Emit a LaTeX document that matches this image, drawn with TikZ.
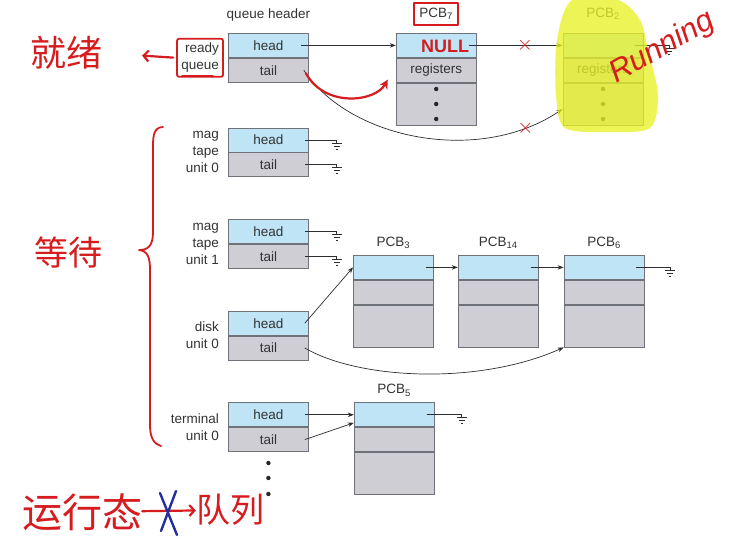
\documentclass[tikz,border=0pt]{standalone}
\usepackage{fontspec}
\setmainfont{Liberation Sans}
\newfontfamily\cjk{Noto Sans CJK SC}
\usetikzlibrary{positioning,arrows.meta,calc,fit}
\definecolor{headblue}{RGB}{190,228,246}
\definecolor{tailgrey}{RGB}{208,206,213}
\definecolor{boxline}{RGB}{112,114,122}
\definecolor{wire}{RGB}{45,45,50}
\definecolor{penred}{RGB}{214,28,30}
\definecolor{penblue}{RGB}{36,46,158}
\definecolor{hilite}{RGB}{232,242,38}
% queue header: name, placement, device label
\newcommand{\qheader}[3]{%
  \node[hd,#2] (#1h) {head};
  \node[tl,below=0pt of #1h] (#1t) {tail};
  \node[dev,left=9pt of #1h.south west] (#1l) {#3};}
% PCB: name, placement, text of second row
\newcommand{\pcbstack}[3]{%
  \node[hd,#2] (#1h) {};
  \node[tl,below=0pt of #1h] (#1r) {#3};
  \node[rest,below=0pt of #1r] (#1b) {};}

\begin{document}
\begin{tikzpicture}[x=1pt,y=-1pt,font=\fontsize{13.5}{17}\selectfont,
  >={Stealth[length=6pt,width=4.5pt]},
  hd/.style={draw=boxline,line width=0.8pt,fill=headblue,minimum width=80pt,
    minimum height=24pt,inner sep=0pt,text=black!80},
  tl/.style={hd,fill=tailgrey},
  rest/.style={tl,minimum height=42pt},
  dev/.style={align=right,inner sep=0pt,text=black!80},
  lbl/.style={inner sep=0pt,text=black!80},
  link/.style={draw=wire,line width=0.7pt},
  gnd/.pic={\draw[wire,line width=0.7pt] (0,0) -- (0,3) (-5,3) -- (5,3) (-3,6) -- (3,6) (-1,9) -- (1,9);},
  pen/.style={draw=penred,line width=2.2pt,line cap=round,line join=round},
  ink/.style={text=penred,inner sep=0pt},
  xmark/.style={ink,font=\fontsize{22}{22}\selectfont}]
  \useasboundingbox (0,0) rectangle (746,538);
  % queue headers
  \qheader{rq}{anchor=north west,at={(228,33)}}{ready\\queue}
  \qheader{mt0}{below=45pt of rqt}{mag\\tape\\unit 0}
  \qheader{mt1}{below=42pt of mt0t}{mag\\tape\\unit 1}
  \qheader{dk0}{below=42pt of mt1t}{disk\\unit 0}
  \qheader{tu0}{below=42pt of dk0t}{terminal\\unit 0}
  \node[lbl,above=11pt of rqh] (qhdr) {queue header};
  % PCBs
  \pcbstack{p7}{right=87pt of rqh}{registers}
  \pcbstack{p2}{right=86pt of p7h}{registers}
  \pcbstack{p3}{anchor=north west,at={(353,255)}}{}
  \pcbstack{p14}{right=24pt of p3h}{}
  \pcbstack{p6}{right=25pt of p14h}{}
  \pcbstack{p5}{right=45pt of tu0h}{}
  \node[lbl,above=13pt of p7h] (p7l) {PCB\textsubscript{7}};
  \node[lbl,above=13pt of p2h] (p2l) {PCB\textsubscript{2}};
  \foreach \idx in {3,14,6,5}
    \node[lbl,above=6pt of p\idx h] (p\idx l) {PCB\textsubscript{\idx}};
  \foreach \blk in {p7b,p2b}
    \foreach \d in {-15,0,15} \fill[black!85] ([yshift=\d pt]\blk.center) circle (2.2);
  \foreach \d in {11,26,42} \fill[black!85] ([yshift=-\d pt]tu0t.south) circle (2.2);
  % ground ends
  \coordinate[right=26pt of p2h.east] (g2);
  \coordinate[right=28pt of mt0h.east] (gm0h);
  \coordinate[right=28pt of mt0t.east] (gm0t);
  \coordinate[right=28pt of mt1h.east] (gm1h);
  \coordinate[right=28pt of mt1t.east] (gm1t);
  \coordinate[right=26pt of p6h.east] (g6);
  \coordinate[right=27pt of p5h.east] (g5);
  % links
  \draw[link,->] ([xshift=-8pt]rqh.east) -- (p7h);
  \draw[link,->] ([xshift=-8pt]p7h.east) -- (p2h) node[xmark,pos=0.6] (x1) {$\times$};
  \draw[link] ([xshift=-8pt]p2h.east) -- (g2) pic{gnd};
  \draw[link,->] ([xshift=-5pt]rqt.east) .. controls (350,140) and (480,165) .. ([yshift=-5pt]p2b.west)
    node[xmark,pos=0.86] (x2) {$\times$};
  \draw[link] ([xshift=-4pt]mt0h.east) -- (gm0h) pic{gnd};
  \draw[link] ([xshift=-4pt]mt0t.east) -- (gm0t) pic{gnd};
  \draw[link] ([xshift=-4pt]mt1h.east) -- (gm1h) pic{gnd};
  \draw[link] ([xshift=-4pt]mt1t.east) -- (gm1t) pic{gnd};
  \draw[link,->] ([xshift=-4pt]dk0h.east) -- (p3h.west);
  \draw[link,->] ([xshift=-4pt]dk0t.east) .. controls (360,380) and (480,385) .. (p6b.south west);
  \draw[link,->] ([xshift=-8pt]p3h.east) -- (p14h);
  \draw[link,->] ([xshift=-8pt]p14h.east) -- (p6h);
  \draw[link] ([xshift=-8pt]p6h.east) -- (g6) pic{gnd};
  \draw[link,->] ([xshift=-4pt]tu0h.east) -- (p5h);
  \draw[link,->] ([xshift=-4pt]tu0t.east) -- ([yshift=-8pt]p5h.west);
  \draw[link] ([xshift=-8pt]p5h.east) -- (g5) pic{gnd};
  % handwritten notes
  \fill[hilite,opacity=0.78] plot[smooth cycle] coordinates
    {(572,0) (618,0) (640,20) (648,50) (658,95) (650,128) (610,132) (565,128) (556,95) (557,40)};
  \node[ink,font=\cjk\fontsize{36}{36}\selectfont] (jiuxu) at (66,53) {就绪};
  \node[pen,line width=1.8pt,rounded corners=2pt,inner sep=4pt,fit=(rql)] (rqbox) {};
  \draw[pen,-{Straight Barb[length=5pt,width=11pt]},shorten <=3pt,shorten >=40pt] (rqbox.west) -- (jiuxu.east);
  \draw[pen,line width=1.8pt] ([xshift=-18pt,yshift=-3pt]rql.south) -- ([xshift=13pt,yshift=-3pt]rql.south);
  \node[pen,line width=1.8pt,inner sep=5pt,fit=(p7l)] (p7box) {};
  \node[ink,font=\bfseries\fontsize{18}{18}\selectfont] (nul) at (445,46) {NULL};
  \draw[pen,-{Stealth[length=9pt,width=9pt]}] ([xshift=-3pt,yshift=-3pt]rqt.east)
    .. controls (325,108) and (375,102) .. ([xshift=-8pt,yshift=3pt]p7r.south west);
  \node[ink,font=\itshape\fontsize{31}{31}\selectfont,rotate=30] (run) at (662,48) {Running};
  \draw[pen,line width=1.8pt] (163,127) .. controls (152,127) and (153,140) .. (153,152) -- (153,232)
    .. controls (153,246) and (148,250) .. (139,250) .. controls (148,251) and (150,258) .. (150,270)
    -- (150,425) .. controls (150,438) and (154,444) .. (161,446);
  \node[ink,font=\cjk\fontsize{34}{34}\selectfont] (dengdai) at (68,252) {等待};
  \node[ink,font=\cjk\fontsize{40}{40}\selectfont] (yunxing) at (82,512) {运行态};
  \node[ink,font=\cjk\fontsize{34}{34}\selectfont] (duilie) at (230,510) {队列};
  \draw[pen,-{Straight Barb[length=5pt,width=11pt]}] (yunxing) -- (duilie);
  \path (yunxing.east) -- (duilie.west) coordinate[midway] (cut);
  \draw[penblue,line width=2.4pt,line cap=round] ([xshift=-9pt,yshift=18pt]cut) -- ([xshift=8pt,yshift=-24pt]cut)
    ([xshift=7pt,yshift=20pt]cut) -- ([xshift=-8pt,yshift=-20pt]cut);
\end{tikzpicture}
\end{document}
